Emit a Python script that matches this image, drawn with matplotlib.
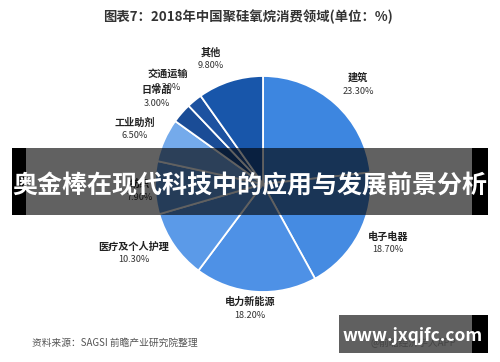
import matplotlib
matplotlib.use('Agg')
import matplotlib.pyplot as plt
from matplotlib.patches import Rectangle

plt.rcParams['font.family'] = ['Noto Sans CJK SC', 'DejaVu Sans']

# data
labels = ['建筑', '电子电器', '电力新能源', '医疗及个人护理', '纺织', '工业助剂', '日常品', '交通运输', '其他']
values = [23.3, 18.7, 18.2, 10.3, 7.9, 6.5, 3.0, 2.3, 9.8]
colors = ['#3d86e0', '#458be2', '#4e91e6', '#5b9ae8', '#629fe8', '#74aaeb', '#1a4c96', '#1d52a0', '#1856aa']

# label centres in pixels from top-left (name line)
label_pos = [(358, 78), (388, 237), (250, 302), (134, 247), (140, 184), (135, 123), (157, 90), (168, 74), (211, 53)]

W, H = 500, 362
fig = plt.figure(figsize=(5, 3.62), dpi=100)
ax = fig.add_axes([0, 0, 1, 1])
ax.set_xlim(0, W)
ax.set_ylim(0, H)
ax.axis('off')

ax.pie(values, colors=colors, startangle=90, counterclock=False,
       center=(263, H - 184), radius=108,
       wedgeprops=dict(edgecolor='white', linewidth=1.3))
ax.set_xlim(0, W)
ax.set_ylim(0, H)

for name, v, (x, y) in zip(labels, values, label_pos):
    ax.text(x, H - y, name, ha='center', va='center', fontsize=7.3, fontweight='bold', color='#222222')
    ax.text(x, H - y - 13, f'{v:.2f}%', ha='center', va='center', fontsize=6.6, color='#333333')

ax.text(248, H - 17, '图表7：2018年中国聚硅氧烷消费领域(单位：%)', ha='center', va='center',
        fontsize=9.6, fontweight='bold', color='#333333')
ax.text(32, H - 343, '资料来源：SAGSI 前瞻产业研究院整理', ha='left', va='center',
        fontsize=7, color='#555555')

# banner overlay
ax.add_patch(Rectangle((12, H - 215), 476, 67, facecolor='black', alpha=0.62, zorder=5))
ax.add_patch(Rectangle((12, H - 215), 14, 67, facecolor='black', zorder=5))
ax.add_patch(Rectangle((472, H - 215), 16, 67, facecolor='black', zorder=5))
ax.text(250, H - 186, '奥金棒在现代科技中的应用与发展前景分析', ha='center', va='center',
        fontsize=18, fontweight='bold', color='white', zorder=6)

# site watermark
ax.add_patch(Rectangle((339, H - 353), 133, 38, facecolor='#606060', zorder=5))
ax.add_patch(Rectangle((472, H - 353), 16, 38, facecolor='black', zorder=5))
ax.text(413, H - 343, '@前瞻经济学人APP', ha='center', va='center', fontsize=7, color='#444444', zorder=6)
ax.text(413, H - 336, 'www.jxqjfc.com', ha='center', va='center', fontsize=12.5,
        fontweight='bold', color='white', zorder=7)

fig.savefig('out.png', dpi=100)
